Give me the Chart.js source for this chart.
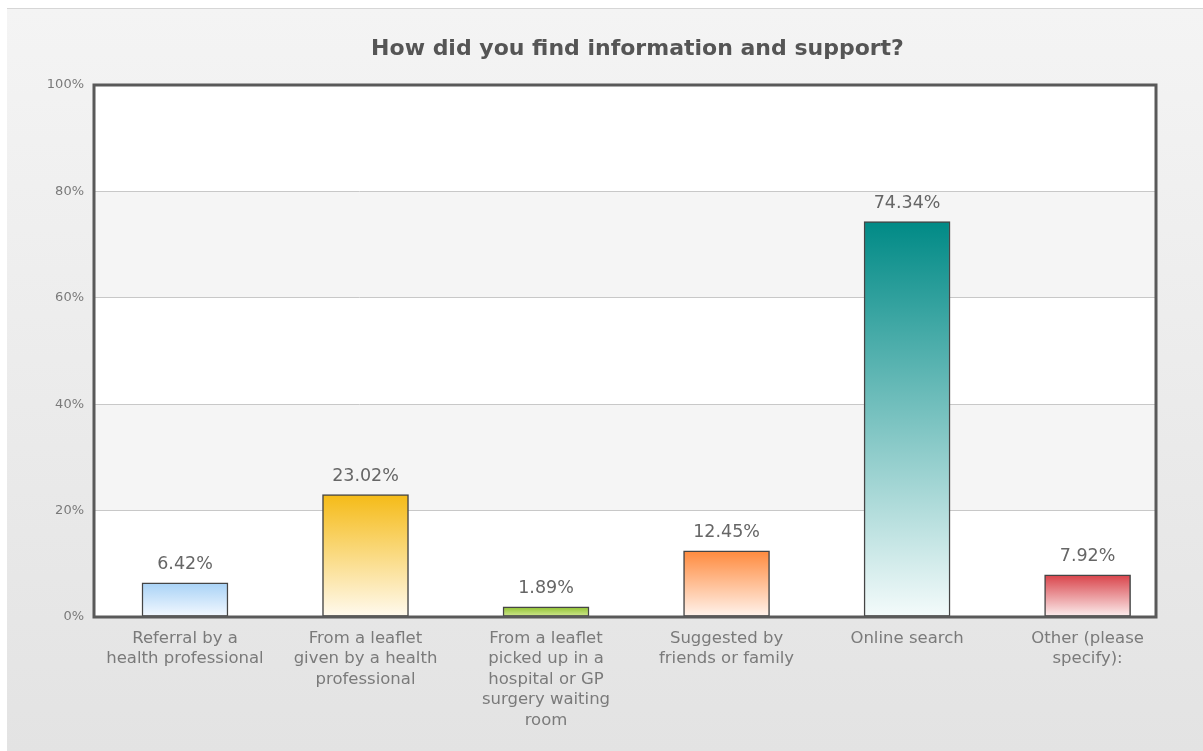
<!DOCTYPE html>
<html lang="en">
<head>
    <meta charset="UTF-8">
    <title>How did you find information and support?</title>
    <script src="https://cdn.jsdelivr.net/npm/chart.js"></script>
    <style>
        body {
            margin: 0;
            background: #ffffff;
            width: 1203px;
            height: 751px;
            overflow: hidden;
        }
        .panel {
            position: absolute;
            left: 7px;
            top: 8px;
            width: 1196px;
            height: 743px;
            border-top: 1px solid #d6d6d6;
            background: linear-gradient(#f4f4f4, #e3e3e3);
        }
        .panel canvas {
            position: absolute;
            left: 0;
            top: 0;
        }
    </style>
</head>
<body>
    <div class="panel">
        <canvas id="supportChart" width="1196" height="742"></canvas>
    </div>

    <script>
        const chartTitle = 'How did you find information and support?';
        const categories = [
            ['Referral by a', 'health professional'],
            ['From a leaflet', 'given by a health', 'professional'],
            ['From a leaflet', 'picked up in a', 'hospital or GP', 'surgery waiting', 'room'],
            ['Suggested by', 'friends or family'],
            ['Online search'],
            ['Other (please', 'specify):']
        ];
        const percentages = [6.42, 23.02, 1.89, 12.45, 74.34, 7.92];
        const yTicks = [0, 20, 40, 60, 80, 100];
        const topColors = ['#a8d2f6', '#f5bb17', '#8fc032', '#ff8a3d', '#008a86', '#d9434a'];
        const bottomColors = ['#f4f9ff', '#fffaef', '#d5ec95', '#fff4ee', '#f4fbfb', '#fcf0f0'];

        const FONT = '"DejaVu Sans", Verdana, sans-serif';

        // fill each bar with a vertical gradient, strong at the top
        function barGradient(context) {
            const chart = context.chart;
            const i = context.dataIndex;
            if (!chart.chartArea || chart.scales.y === undefined) return topColors[i];
            const y = chart.scales.y;
            const top = y.getPixelForValue(percentages[i]);
            const bottom = y.getPixelForValue(0);
            const g = chart.ctx.createLinearGradient(0, top, 0, bottom);
            g.addColorStop(0, topColors[i]);
            g.addColorStop(1, bottomColors[i]);
            return g;
        }

        const plotDecor = {
            id: 'plotDecor',
            beforeDraw(chart) {
                const { ctx, chartArea } = chart;
                const y = chart.scales.y;
                ctx.save();
                ctx.fillStyle = '#ffffff';
                ctx.fillRect(chartArea.left, chartArea.top, chartArea.right - chartArea.left, chartArea.bottom - chartArea.top);
                // grey bands 20-40 and 60-80
                ctx.fillStyle = '#f5f5f5';
                [[20, 40], [60, 80]].forEach(([a, b]) => {
                    const y1 = y.getPixelForValue(b);
                    const y2 = y.getPixelForValue(a);
                    ctx.fillRect(chartArea.left, y1, chartArea.right - chartArea.left, y2 - y1);
                });
                ctx.restore();
            },
            afterDatasetsDraw(chart) {
                const { ctx, chartArea } = chart;
                const meta = chart.getDatasetMeta(0);
                ctx.save();
                // value labels above bars
                ctx.fillStyle = '#666666';
                ctx.font = '17.5px ' + FONT;
                ctx.textAlign = 'center';
                ctx.textBaseline = 'middle';
                meta.data.forEach((bar, i) => {
                    ctx.fillText(percentages[i].toFixed(2) + '%', bar.x, bar.y - 18);
                });
                // plot frame
                ctx.strokeStyle = '#595959';
                ctx.lineWidth = 3;
                ctx.strokeRect(chartArea.left, chartArea.top, chartArea.right - chartArea.left, chartArea.bottom - chartArea.top);
                // title
                ctx.fillStyle = '#555555';
                ctx.font = 'bold 22px ' + FONT;
                ctx.fillText(chartTitle, 630.5, 40);
                ctx.restore();
            }
        };

        const ctx = document.getElementById('supportChart').getContext('2d');
        const supportChart = new Chart(ctx, {
            type: 'bar',
            data: {
                datasets: [{
                    data: percentages.map((v, i) => ({ x: i, y: v })),
                    backgroundColor: barGradient,
                    borderColor: '#454545',
                    borderWidth: 1.5,
                    borderSkipped: false,
                    barThickness: 86
                }]
            },
            options: {
                responsive: false,
                animation: false,
                layout: {
                    padding: { top: 76, right: 47, left: 0, bottom: 0 }
                },
                plugins: {
                    legend: { display: false },
                    tooltip: { enabled: false }
                },
                scales: {
                    x: {
                        type: 'linear',
                        offset: false,
                        min: -0.504,
                        max: 5.379,
                        grid: { display: false },
                        border: { display: false },
                        afterFit: (scale) => { scale.height = 134; },
                        afterBuildTicks: (scale) => {
                            scale.ticks = categories.map((c, i) => ({ value: i }));
                        },
                        ticks: {
                            autoSkip: false,
                            maxRotation: 0,
                            padding: 3,
                            color: '#7a7a7a',
                            font: { family: FONT, size: 16.5, lineHeight: '20.5px' },
                            callback: (value) => categories[value]
                        }
                    },
                    y: {
                        min: 0,
                        max: 100,
                        afterFit: (scale) => { scale.width = 87; },
                        afterBuildTicks: (scale) => {
                            scale.ticks = yTicks.map(v => ({ value: v }));
                        },
                        grid: {
                            color: '#c8c8c8',
                            drawTicks: false
                        },
                        border: { display: false },
                        ticks: {
                            padding: 10,
                            color: '#7a7a7a',
                            font: { family: FONT, size: 13 },
                            callback: (value) => value + '%'
                        }
                    }
                }
            },
            plugins: [plotDecor]
        });
    </script>
</body>
</html>
